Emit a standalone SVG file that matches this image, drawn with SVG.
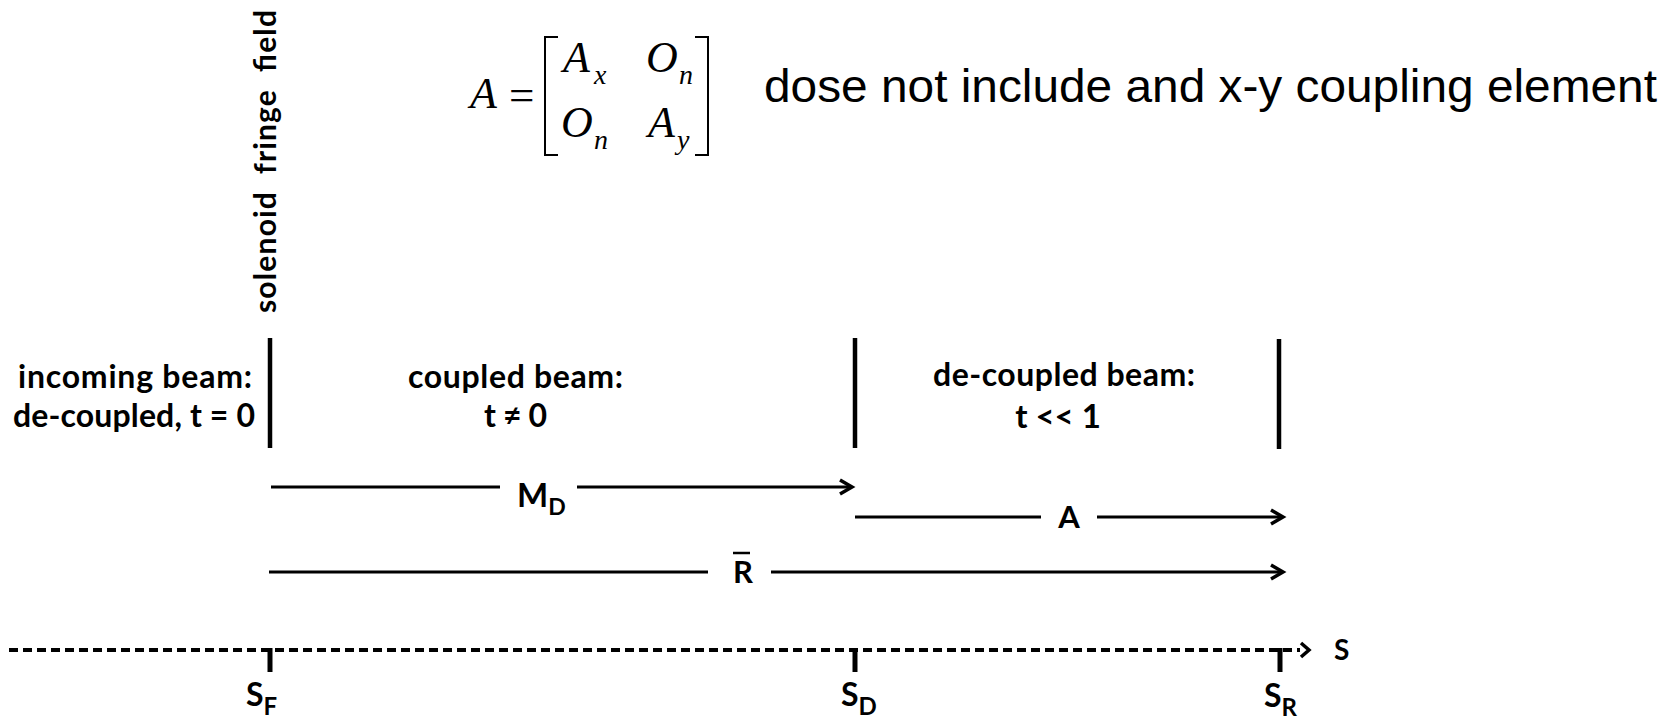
<svg xmlns="http://www.w3.org/2000/svg" width="1671" height="719" viewBox="0 0 1671 719">
<style>
.lbl{font-family:Lato,"Open Sans","Liberation Sans",sans-serif;font-weight:bold;fill:#000;}
.m{font-family:"Liberation Serif","Times New Roman",serif;font-style:italic;fill:#000;}
.ar{font-family:"Liberation Sans",Arial,sans-serif;fill:#000;}
.ln{stroke:#000;stroke-width:3;fill:none;}
.bar{stroke:#000;stroke-width:4.5;fill:none;}
.tick{stroke:#000;stroke-width:5;fill:none;}
.ah{stroke:#000;stroke-width:3.5;fill:none;stroke-linejoin:miter;}
</style>
<rect width="1671" height="719" fill="#fff"/>

<g id="solenoid-label">
<text class="lbl" font-size="30" transform="translate(276,313) rotate(-90)" textLength="303" lengthAdjust="spacing" xml:space="preserve">solenoid  fringe  field</text>
</g>

<g id="matrix">
<text class="m" font-size="44" x="470" y="108">A</text>
<text font-family="'Liberation Serif',serif" font-size="45" x="509" y="110" fill="#000">=</text>
<path d="M558 37 H545 V155 H558" stroke="#000" stroke-width="2" fill="none"/>
<path d="M695 37 H708 V155 H695" stroke="#000" stroke-width="2" fill="none"/>
<text class="m" font-size="44" x="563" y="72">A</text>
<text class="m" font-size="28" x="594" y="84">x</text>
<text class="m" font-size="44" x="646" y="72">O</text>
<text class="m" font-size="28" x="679" y="84">n</text>
<text class="m" font-size="44" x="561" y="137">O</text>
<text class="m" font-size="28" x="594" y="149">n</text>
<text class="m" font-size="44" x="648" y="137">A</text>
<text class="m" font-size="28" x="677" y="149">y</text>
</g>

<g id="note">
<text class="ar" font-size="47" x="764" y="102" textLength="893" lengthAdjust="spacingAndGlyphs">dose not include and x-y coupling element</text>
</g>

<g id="boundaries">
<line class="bar" x1="270" y1="338" x2="270" y2="448"/>
<line class="bar" x1="855" y1="338" x2="855" y2="448"/>
<line class="bar" x1="1279" y1="339" x2="1279" y2="449"/>
</g>

<g id="region-incoming">
<text class="lbl" font-size="32" x="18" y="388" textLength="234">incoming beam:</text>
<text class="lbl" font-size="32" x="13" y="427" textLength="242">de-coupled, t = 0</text>
</g>
<g id="region-coupled">
<text class="lbl" font-size="32" x="408" y="388" textLength="215">coupled beam:</text>
<text class="lbl" font-size="32" x="484" y="427" textLength="63">t ≠ 0</text>
</g>
<g id="region-decoupled">
<text class="lbl" font-size="32" x="933" y="386" textLength="262">de-coupled beam:</text>
<text class="lbl" font-size="33" x="1058" y="428" text-anchor="middle">t &lt;&lt; 1</text>
</g>

<g id="connectors">
<line class="ln" x1="271" y1="487" x2="500" y2="487"/>
<line class="ln" x1="577" y1="487" x2="851" y2="487"/>
<polyline class="ah" points="840,480 852,487 840,494"/>
<line class="ln" x1="855" y1="517" x2="1041" y2="517"/>
<line class="ln" x1="1097" y1="517" x2="1282" y2="517"/>
<polyline class="ah" points="1271,510 1283,517 1271,524"/>
<line class="ln" x1="269" y1="572" x2="708" y2="572"/>
<line class="ln" x1="771" y1="572" x2="1282" y2="572"/>
<polyline class="ah" points="1271,565 1283,572 1271,579"/>
<line stroke="#000" stroke-width="4" stroke-dasharray="9 5" x1="9" y1="650" x2="1300" y2="650"/>
<polyline class="ah" points="1301,643 1309,650 1301,657"/>
<line class="tick" x1="270" y1="648" x2="270" y2="672"/>
<line class="tick" x1="855" y1="648" x2="855" y2="672"/>
<line class="tick" x1="1280" y1="648" x2="1280" y2="672"/>
</g>

<g id="arrow-labels">
<text class="lbl" font-size="33" x="517" y="507">M<tspan font-size="23" dy="8">D</tspan></text>
<text class="lbl" font-size="31" x="1069" y="528" text-anchor="middle">A</text>
<text class="lbl" font-size="31" x="733" y="583">R</text>
<line stroke="#000" stroke-width="2.5" x1="733" y1="553" x2="750" y2="553"/>
</g>

<g id="axis-labels">
<text class="lbl" font-size="28" x="1334" y="660">S</text>
<text class="lbl" font-size="32" x="246" y="706">S<tspan font-size="24" dy="9">F</tspan></text>
<text class="lbl" font-size="32" x="841" y="706">S<tspan font-size="24" dy="9">D</tspan></text>
<text class="lbl" font-size="32" x="1264" y="707">S<tspan font-size="24" dy="9">R</tspan></text>
</g>
</svg>
